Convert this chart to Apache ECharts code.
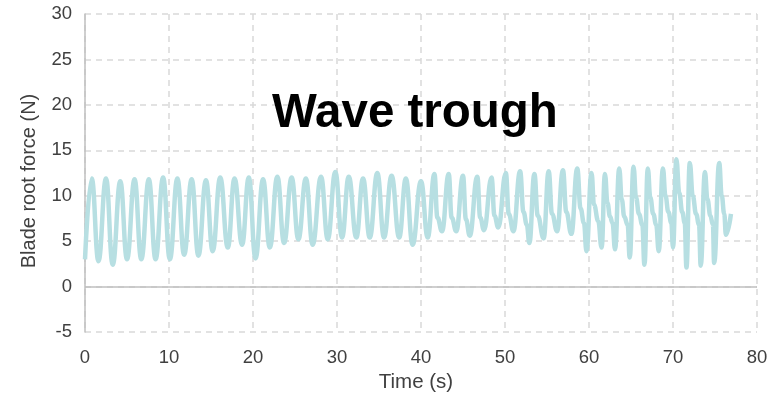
<!DOCTYPE html>
<html>
<head>
<meta charset="utf-8">
<script src="https://cdn.jsdelivr.net/npm/echarts@6/dist/echarts.min.js"></script>
<style>
html,body{margin:0;padding:0;background:#fff;}
#chart{width:770px;height:394px;}
</style>
</head>
<body>
<div id="chart"></div>
<script>
// Time (s) samples
const timeS = [
  0.0, 0.8, 1.6, 2.5, 3.3, 4.2, 5.0, 5.9, 6.7, 7.6, 8.4, 9.3, 10.1, 11.0, 11.8, 12.7, 13.5, 14.4, 15.2, 16.1, 17.0, 17.8, 18.7, 19.5, 20.3,
  21.2, 22.0, 22.9, 23.7, 24.6, 25.4, 26.3, 27.1, 28.1, 28.9, 29.8, 30.6, 31.4, 32.3, 33.1, 33.9, 34.8, 35.6, 36.5, 37.4, 38.2, 39.0, 40.0, 40.8,
  41.6, 41.95, 42.5, 43.3, 43.65, 44.2, 45.0, 45.35, 45.8, 46.7, 47.05, 47.5, 48.4, 48.75, 49.2, 50.1, 50.45, 51.0,
  51.8, 52.2, 52.6, 52.9, 53.5, 53.9, 54.6, 55.2, 55.6, 56.2, 56.9, 57.3, 57.9, 58.6, 59.0, 59.4, 59.7,
  60.3, 60.6, 61.1, 61.5, 61.9, 62.2, 62.5, 62.8, 63.1, 63.6, 63.9, 64.2, 64.6, 64.85,
  65.3, 65.6, 65.95, 66.35, 66.6, 67.0, 67.3, 67.65, 68.0, 68.3, 68.8, 69.1, 69.45, 69.8, 70.0,
  70.4, 70.75, 71.1, 71.4, 71.6, 72.0, 72.35, 72.75, 73.1, 73.3, 73.8, 74.1, 74.45, 74.75, 74.9,
  75.5, 75.8, 76.1, 76.3, 76.9
];
// Blade root force (N) samples
const forceN = [
  3.0, 11.9, 2.8, 11.9, 2.4, 11.6, 3.0, 11.8, 3.0, 11.8, 3.0, 12.0, 3.0, 11.9, 3.5, 11.8, 3.4, 11.7, 3.9, 12.0, 4.3, 11.9, 4.6, 12.0, 3.1,
  11.8, 4.3, 12.1, 4.8, 12.0, 5.2, 11.9, 4.6, 12.1, 5.2, 12.6, 5.4, 12.1, 5.4, 11.9, 5.4, 12.5, 5.4, 12.2, 5.4, 11.9, 4.6, 11.6, 5.4,
  12.4, 7.6, 6.1, 12.4, 7.6, 6.1, 12.2, 7.4, 5.6, 12.1, 7.6, 6.2, 12.0, 7.8, 6.5, 12.5, 8.0, 6.1,
  12.7, 8.2, 6.8, 4.8, 12.4, 7.8, 5.3, 12.7, 8.0, 6.1, 12.8, 8.2, 5.8, 13.0, 8.6, 7.0, 3.9,
  12.5, 9.0, 7.2, 4.3, 12.4, 9.2, 7.7, 7.0, 4.1, 13.0, 9.6, 7.7, 6.8, 3.2,
  13.2, 9.8, 8.0, 6.8, 2.4, 13.0, 9.8, 8.0, 6.8, 3.9, 13.0, 10.0, 8.2, 7.0, 4.3,
  14.0, 10.3, 8.2, 7.0, 2.1, 13.6, 10.0, 8.0, 6.8, 2.3, 12.6, 9.6, 7.8, 6.8, 2.6,
  13.6, 10.0, 8.0, 5.7, 8.0
];
const chartTitle = 'Wave trough';
const xTitle = 'Time (s)';
const yTitle = 'Blade root force (N)';

const points = timeS.map((t, i) => [t, forceN[i]]);
const font = 'Liberation Sans, Arial, sans-serif';

const chart = echarts.init(document.getElementById('chart'), null, {renderer: 'canvas'});
chart.setOption({
  animation: false,
  backgroundColor: '#ffffff',
  title: {
    text: chartTitle,
    left: 267,
    top: 85,
    textStyle: {fontFamily: font, fontSize: 47.5, fontWeight: 'bold', color: '#000000'}
  },
  grid: {left: 85, right: 13, top: 14, bottom: 62, containLabel: false, outerBoundsMode: 'none'},
  xAxis: {
    type: 'value', min: 0, max: 80, interval: 10,
    name: xTitle, nameLocation: 'middle', nameGap: 39,
    nameTextStyle: {fontFamily: font, fontSize: 20.5, color: '#404040', padding: [0, 10, 0, 0]},
    axisLine: {show: false, onZero: false},
    axisTick: {show: false},
    axisLabel: {fontFamily: font, fontSize: 18.5, color: '#404040', margin: 16},
    splitLine: {show: true, lineStyle: {color: '#d9d9d9', width: 1.5, type: [6, 5]}}
  },
  yAxis: {
    type: 'value', min: -5, max: 30, interval: 5,
    name: yTitle, nameLocation: 'middle', nameGap: 46, nameRotate: 90,
    nameTextStyle: {fontFamily: font, fontSize: 20, color: '#404040', padding: [0, 16, 0, 0]},
    axisLine: {show: true, lineStyle: {color: '#bfbfbf', width: 1.5}},
    axisTick: {show: false},
    axisLabel: {fontFamily: font, fontSize: 18.5, color: '#404040', margin: 13},
    splitLine: {show: true, lineStyle: {color: '#d9d9d9', width: 1.5, type: [6, 5]}}
  },
  series: [{
    type: 'line',
    data: points,
    showSymbol: false,
    smooth: 0.45,
    smoothMonotone: 'x',
    lineStyle: {color: '#b7dfe2', width: 4.5},
    z: 3,
    markLine: {
      silent: true,
      symbol: ['none', 'none'],
      label: {show: false},
      lineStyle: {color: '#bfbfbf', width: 1.5, type: 'solid'},
      data: [{yAxis: 0}],
      z: 2
    }
  }]
});
</script>
</body>
</html>
